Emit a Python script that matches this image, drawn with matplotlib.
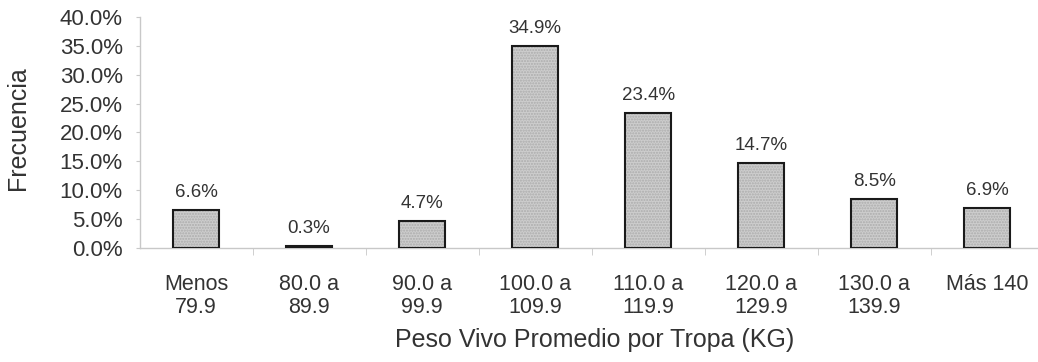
import numpy as np
import matplotlib.pyplot as plt
from matplotlib.ticker import PercentFormatter

categorias = ["Menos\n79.9", "80.0 a\n89.9", "90.0 a\n99.9", "100.0 a\n109.9",
              "110.0 a\n119.9", "120.0 a\n129.9", "130.0 a\n139.9", "Más 140"]
frecuencia = [6.6, 0.3, 4.7, 34.9, 23.4, 14.7, 8.5, 6.9]

plt.rcParams['font.family'] = ['Liberation Sans', 'DejaVu Sans']
gris = '#333333'

fig = plt.figure(figsize=(10.38, 3.62), dpi=100)
ax = fig.add_axes([0.1344, 0.315, 0.8656, 0.638])

x = np.arange(len(categorias))
# relleno punteado y borde negro por separado
ax.bar(x, frecuencia, width=0.41, color='#cdcdcd', edgecolor='#acacac',
       hatch='......', linewidth=0, zorder=2)
ax.bar(x, frecuencia, width=0.41, fill=False, edgecolor='#1a1a1a',
       linewidth=1.5, zorder=3)

for xi, v in zip(x, frecuencia):
    ax.annotate(f"{v:.1f}%", (xi, v), xytext=(0, 9.5), textcoords='offset points',
                ha='center', va='baseline', fontsize=13.5, color=gris)

ax.set_xlim(-0.5, 7.45)
ax.set_ylim(0, 40)
ax.set_yticks(np.arange(0, 41, 5))
ax.yaxis.set_major_formatter(PercentFormatter(decimals=1))
ax.set_xticks(x)
ax.set_xticklabels(categorias, linespacing=1.1)
ax.set_xticks(np.arange(0.5, 7.5, 1), minor=True)

for s in ['top', 'right']:
    ax.spines[s].set_visible(False)
for s in ['left', 'bottom']:
    ax.spines[s].set_color('#c8c8c8')
    ax.spines[s].set_linewidth(1.0)

ax.tick_params(axis='y', labelsize=16, colors='#c8c8c8', labelcolor=gris,
               length=3, pad=9)
ax.tick_params(axis='x', which='major', length=0, labelsize=15.5,
               labelcolor=gris, pad=19)
ax.tick_params(axis='x', which='minor', length=5, color='#c8c8c8')

fig.text(0.0173, 0.646, "Frecuencia", rotation=90, ha='center', va='center',
         fontsize=18, color=gris)
fig.text(0.573, 0.061, "Peso Vivo Promedio por Tropa (KG)", ha='center',
         va='center', fontsize=18, color=gris)

fig.savefig("out.png", dpi=100)
